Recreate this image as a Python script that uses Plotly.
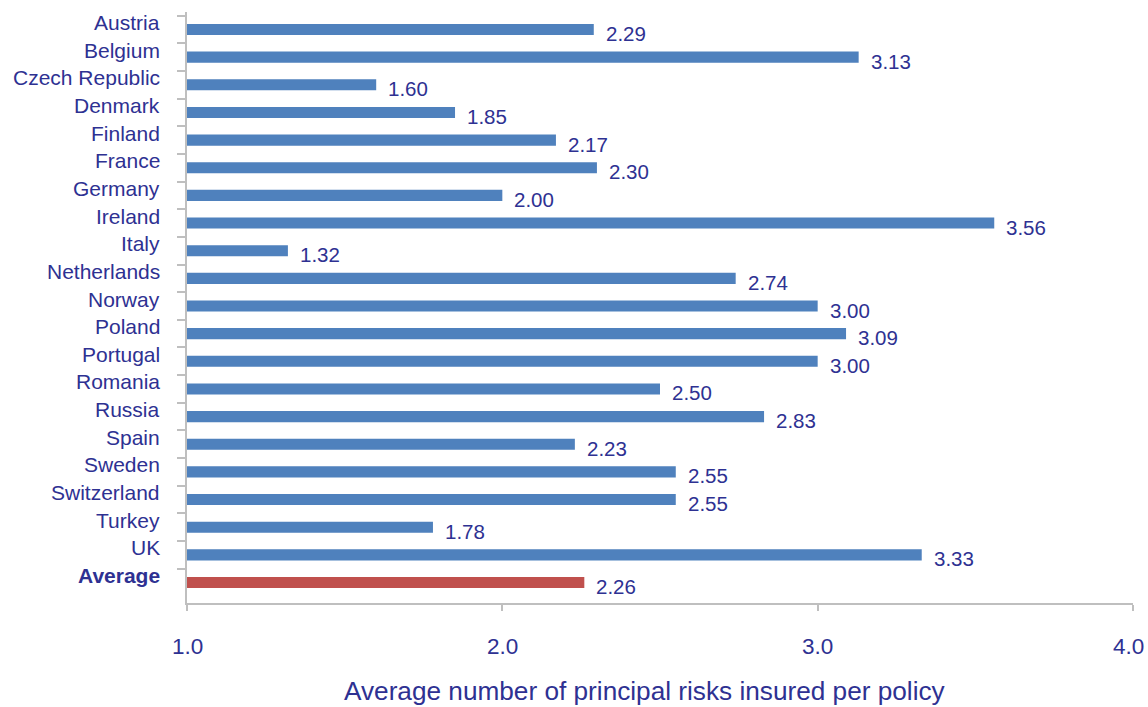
import plotly.graph_objects as go

countries = ["Austria", "Belgium", "Czech Republic", "Denmark", "Finland", "France",
             "Germany", "Ireland", "Italy", "Netherlands", "Norway", "Poland",
             "Portugal", "Romania", "Russia", "Spain", "Sweden", "Switzerland",
             "Turkey", "UK", "Average"]
risks = [2.29, 3.13, 1.60, 1.85, 2.17, 2.30, 2.00, 3.56, 1.32, 2.74, 3.00, 3.09,
         3.00, 2.50, 2.83, 2.23, 2.55, 2.55, 1.78, 3.33, 2.26]
x_ticks = [1.0, 2.0, 3.0, 4.0]

BLUE = "#4F81BD"
RED = "#C0504D"
NAVY = "#2E3192"
AXIS = "#BFBFBF"
FONT = "Liberation Sans, Arial, sans-serif"

colors = [RED if c == "Average" else BLUE for c in countries]

fig = go.Figure(go.Bar(
    y=countries, x=risks, orientation="h",
    marker=dict(color=colors, line=dict(width=0)),
    width=0.4, hoverinfo="skip",
))

annotations = []
for c, v in zip(countries, risks):
    # value label to the right of each bar
    annotations.append(dict(
        x=v, y=c, xref="x", yref="y", text=f"{v:.2f}", showarrow=False,
        xanchor="left", xshift=10, yshift=-4,
        font=dict(family=FONT, size=20.5, color=NAVY)))
    # category label left of the axis
    label = "<b>Average</b>" if c == "Average" else c
    annotations.append(dict(
        x=0, y=c, xref="paper", yref="y", text=label, showarrow=False,
        xanchor="right", xshift=-25, yshift=7,
        font=dict(family=FONT, size=21, color=NAVY)))

# x tick labels, kept inside the page at the right edge
for i, t in enumerate(x_ticks):
    last = i == len(x_ticks) - 1
    annotations.append(dict(
        x=t, y=0, xref="x", yref="paper", text=f"{t:.1f}", showarrow=False,
        xanchor="right" if last else "center", xshift=13 if last else 0,
        yanchor="middle", yshift=-43,
        font=dict(family=FONT, size=22.5, color=NAVY)))

annotations.append(dict(
    x=0.4845, y=-0.149, xref="paper", yref="paper", yanchor="middle",
    text="Average number of principal risks insured per policy", showarrow=False,
    font=dict(family=FONT, size=26.2, color=NAVY)))

fig.update_layout(
    width=1148, height=707,
    margin=dict(l=187, r=15, t=12, b=104),
    paper_bgcolor="white", plot_bgcolor="white",
    showlegend=False, bargap=0.6,
    annotations=annotations,
    font=dict(family=FONT, color=NAVY),
)
fig.update_xaxes(
    range=[1.0, 4.0], tickvals=x_ticks, showticklabels=False,
    showgrid=False, zeroline=False, showline=True, linecolor=AXIS, linewidth=2,
    ticks="outside", ticklen=6, tickcolor=AXIS, tickwidth=2, automargin=False,
)
fig.update_yaxes(
    autorange="reversed", categoryorder="array", categoryarray=countries,
    showticklabels=False, showgrid=False, zeroline=False, automargin=False,
    showline=True, linecolor=AXIS, linewidth=2,
    ticks="outside", tickson="boundaries", ticklen=8, tickcolor=AXIS, tickwidth=2,
)

fig.write_html("out.html")
